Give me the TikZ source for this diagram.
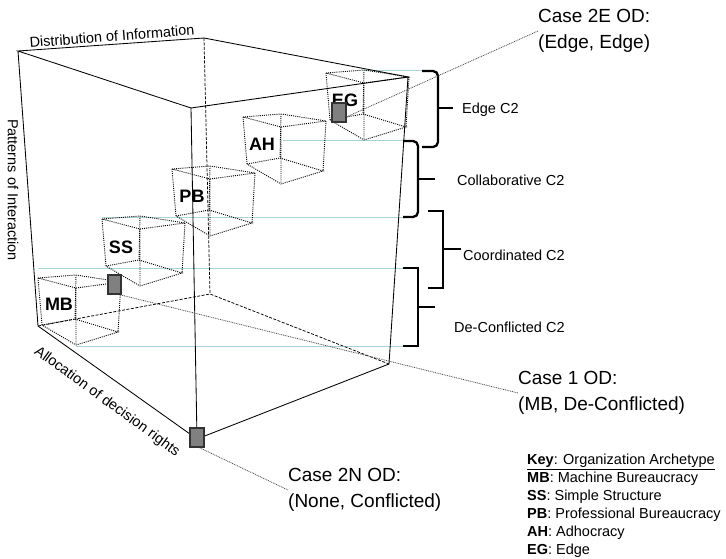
\documentclass[tikz,border=0pt]{standalone}
\usepackage{fontspec}
\setmainfont{Liberation Sans}
\definecolor{levelcol}{RGB}{170,212,218}
\begin{document}
\begin{tikzpicture}[x=1pt,y=-1pt,
  boxline/.style={line width=0.85pt},
  backline/.style={line width=0.75pt,dash pattern=on 3pt off 1.5pt},
  wire/.style={line width=0.9pt,dash pattern=on 1pt off 1.1pt,black},
  levelline/.style={line width=1pt,levelcol},
  bracket/.style={line width=2.3pt},
  leader/.style={line width=0.8pt,black!70,dash pattern=on 0.9pt off 0.9pt},
  sqmark/.style={draw=black!80,fill=black!50,line width=1.7pt,minimum width=13.5pt,minimum height=19pt,inner sep=0pt},
  arch/.style={font=\fontsize{18}{20}\selectfont\bfseries,inner sep=0pt},
  lbl/.style={font=\fontsize{14.5}{17}\selectfont,inner sep=0pt},
  keytxt/.style={font=\fontsize{14.5}{18}\selectfont,align=left,inner sep=0pt},
  casetxt/.style={font=\fontsize{19}{25.5}\selectfont,align=left,inner sep=0pt},
  wirecube/.pic={
    \draw[wire] (0,0) -- (38,-3) -- (83,4) -- (38,10) -- cycle
      (4,47) -- (37,41) -- (80,54) -- (38,67) -- cycle
      (0,0) -- (4,47) (38,-3) -- (37,41) (83,4) -- (80,54) (38,10) -- (38,67);
  }]
\fill[white] (0,0) rectangle (726,559);
\useasboundingbox (0,0) rectangle (726,559);

% level lines running to the brackets
\draw[levelline] (365,71) -- (422,71);
\draw[levelline] (283,141) -- (403,141);
\draw[levelline] (102,217) -- (403,217);
\draw[levelline] (38,268) -- (403,268);
\draw[levelline] (76,346) -- (403,346);

% outer box
\coordinate (A) at (18,51);
\coordinate (D) at (204,38);
\coordinate (C) at (408,77);
\coordinate (B) at (191,108);
\coordinate (E) at (38,326);
\coordinate (H) at (197,439);
\coordinate (F) at (389,364);
\coordinate (G) at (210,294);
\draw[boxline] (A) -- (D) -- (C) -- (B) -- cycle;
\draw[boxline] (A) -- (E) -- (H) -- (F) -- (C);
\draw[boxline] (B) -- (H);
\draw[backline] (D) -- (G) (E) -- (G) -- (F);

% archetype cubes
\pic at (38,278) {wirecube};
\pic at (102,219) {wirecube};
\pic at (172,169) {wirecube};
\pic at (243,117) {wirecube};
\pic at (326,73) {wirecube};

\node[arch] (labMB) at (59,304) {MB};
\node[arch] (labSS) at (121,247) {SS};
\node[arch] (labPB) at (192,196) {PB};
\node[arch] (labAH) at (262,144) {AH};
\node[arch] (labEG) at (345,100) {EG};

% brackets for the C2 levels
\draw[bracket,rounded corners=5pt] (422,71) -| (438,108) |- (422,147);
\draw[bracket] (438,108) -- (453,108);
\draw[bracket,rounded corners=5pt] (403,141) -| (418,179) |- (403,217);
\draw[bracket] (418,179) -- (435,179);
\draw[bracket] (428,211) -| (443,249) |- (428,288);
\draw[bracket] (443,249) -- (461,249);
\draw[bracket] (403,268) -| (418,307) |- (403,346);
\draw[bracket] (418,307) -- (435,307);

\node[lbl,anchor=west] (edgeC2) at (462,110) {Edge C2};
\node[lbl,anchor=west] (collabC2) at (457,180) {Collaborative C2};
\node[lbl,anchor=west] (coordC2) at (463,255) {Coordinated C2};
\node[lbl,anchor=west] (deconfC2) at (454,327) {De-Conflicted C2};

% axis names
\node[lbl,rotate=4.5] (distInfo) at (112,36) {Distribution of Information};
\node[lbl,rotate=-90] (patInt) at (13,190) {Patterns of Interaction};
\node[lbl,rotate=-36] (allocDR) at (107,402) {Allocation of decision rights};

% operating points
\node[casetxt,anchor=west] (case2E) at (538,31) {Case 2E OD:\\(Edge, Edge)};
\node[casetxt,anchor=west] (case1) at (518,393) {Case 1 OD:\\(MB, De-Conflicted)};
\node[casetxt,anchor=west] (case2N) at (288,490) {Case 2N OD:\\(None, Conflicted)};

\node[sqmark] (sqEG) at (339,112.5) {};
\node[sqmark] (sqMB) at (114.5,284.5) {};
\node[sqmark] (sqNone) at (197,437.5) {};

\draw[leader] (sqEG.-30) -- (case2E.west);
\draw[leader] (sqMB.-60) -- (case1.west);
\draw[leader] (sqNone.-75) -- (case2N.west);

% key
\node[keytxt,anchor=west] (key) at (527,506) {\underline{\textbf{Key}: Organization Archetype}\\
  \textbf{MB}: Machine Bureaucracy\\
  \textbf{SS}: Simple Structure\\
  \textbf{PB}: Professional Bureaucracy\\
  \textbf{AH}: Adhocracy\\
  \textbf{EG}: Edge};
\end{tikzpicture}
\end{document}
